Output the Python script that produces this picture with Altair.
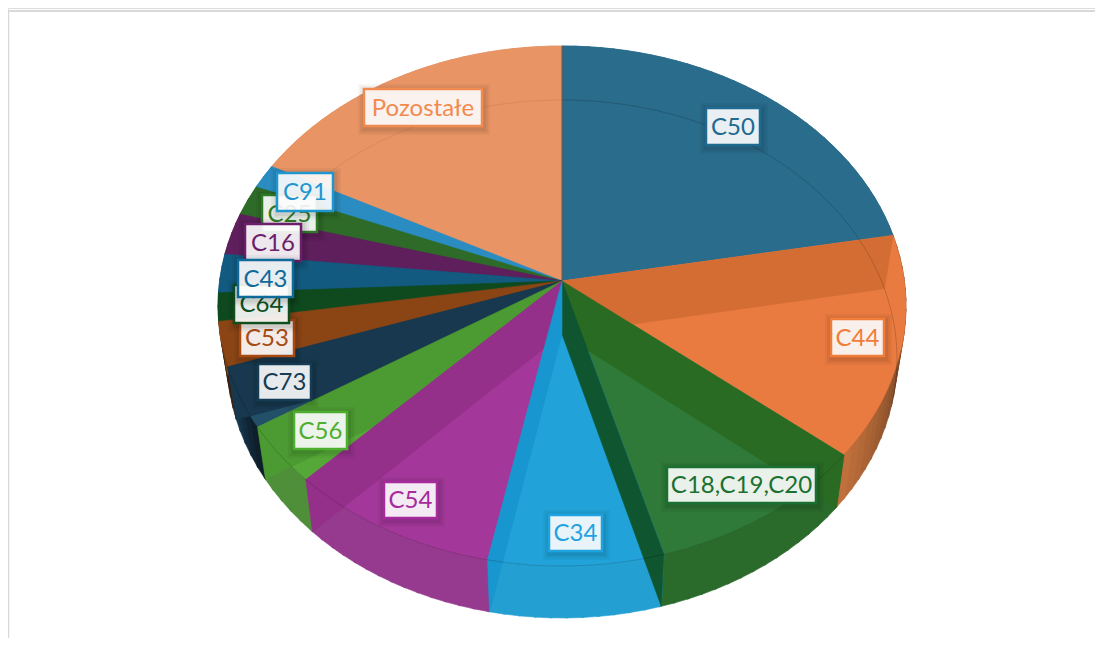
import math
import altair as alt

# ---- chart values ----
names = ["C50", "C44", "C18,C19,C20", "C34", "C54", "C56", "C73", "C53", "C64", "C43", "C16", "C25", "C91", "Pozostałe"]
shares = [22.1, 13.8, 9.7, 7.5, 9.1, 3.7, 3.8, 2.75, 1.75, 2.4, 2.6, 1.9, 1.5, 17.3]
top_colors = ["#2a6c8c", "#e97b40", "#2f7a38", "#21a3d9", "#a3379a", "#55a838", "#235069", "#9c5020", "#0f4a1f", "#125a80", "#5e1f5c", "#2e6b28", "#2a8cc0", "#e89465"]
far_wall_colors = ["#2a6c8c", "#d46d34", "#2a6b24", "#1896cf", "#94308a", "#4c9a32", "#17384e", "#8b4515", "#0f4a1f", "#125a80", "#5e1f5c", "#2e6b28", "#2a8cc0", "#e89465"]
rim_from = ["#2a6c8c", "#3a2010", "#2a6b2c", "#239fd2", "#953a8f", "#4f8f3a", "#0e1e2a", "#3a2010", "#0f4a1f", "#125a80", "#5e1f5c", "#2e6b28", "#2a8cc0", "#e89465"]
rim_to = ["#2a6c8c", "#c0703c", "#2a6b2c", "#239fd2", "#953a8f", "#4f8f3a", "#173a50", "#3a2010", "#0f4a1f", "#125a80", "#5e1f5c", "#2e6b28", "#2a8cc0", "#e89465"]
label_colors = ["#1f6a90", "#f07d3a", "#1a7030", "#1fa3e0", "#a62b9c", "#4eae30", "#153c55", "#a84a12", "#0f4f1f", "#0f6a9a", "#6c1f6a", "#2f7a26", "#1e96cf", "#f28a50"]
near_wall_c18 = "#0f5530"

# ---- layout (page pixels) ----
W, H = 1087, 630
OFF = 8
TOP = dict(cx=562, cy=306, rx=344, ry=260)
BOT = dict(cx=562, cy=359, rx=335, ry=259)
E = 25 / 260
label_boxes = {
    "C50": (705, 761, 107, 146), "C44": (830, 885, 318, 357), "C18,C19,C20": (666, 817, 466, 504),
    "C34": (548, 603, 514, 552), "C54": (383, 438, 481, 519), "C56": (293, 348, 411, 450),
    "C73": (257, 312, 363, 401), "C53": (239, 295, 319, 357), "C64": (233, 290, 284, 324),
    "C43": (237, 294, 259, 298), "C16": (244, 302, 223, 262), "C25": (261, 318, 194, 233),
    "C91": (276, 334, 172, 212), "Pozostałe": (363, 483, 88, 127),
}
label_order = ["Pozostałe", "C50", "C44", "C18,C19,C20", "C34", "C54", "C56", "C73", "C25", "C91", "C53", "C64", "C16", "C43"]


def unit(a):
    d = 1 + E * math.cos(a)
    return math.sin(a) * math.sqrt(1 - E * E) / d, (math.cos(a) + E) / d


def pt(a, e):
    X, Y = unit(a)
    return [e["cx"] + e["rx"] * X - OFF, e["cy"] - e["ry"] * Y - OFF]


def apex(e):
    return [e["cx"] - OFF, e["cy"] - e["ry"] * E - OFF]


def mix(c1, c2, f):
    a = [int(c1[i:i + 2], 16) for i in (1, 3, 5)]
    b = [int(c2[i:i + 2], 16) for i in (1, 3, 5)]
    return "#%02x%02x%02x" % tuple(round(p + (q - p) * f) for p, q in zip(a, b))


def poly(points, color):
    return {"type": "Feature", "properties": {"c": color},
            "geometry": {"type": "Polygon", "coordinates": [points + [points[0]]]}}


edges = [0.0]
for s in shares:
    edges.append(edges[-1] + s / sum(shares) * 2 * math.pi)

fills = []
# outer side walls
for i in range(len(names)):
    n = max(2, int((edges[i + 1] - edges[i]) / 0.04))
    for k in range(n):
        a0 = edges[i] + (edges[i + 1] - edges[i]) * k / n
        a1 = edges[i] + (edges[i + 1] - edges[i]) * (k + 1.15) / n
        fills.append(poly([pt(a0, TOP), pt(a1, TOP), pt(a1, BOT), pt(a0, BOT)],
                          mix(rim_from[i], rim_to[i], k / (n - 1))))
# top faces
for i in range(len(names)):
    n = max(3, int((edges[i + 1] - edges[i]) / 0.02))
    arc = [pt(edges[i] + (edges[i + 1] - edges[i]) * k / n, TOP) for k in range(n + 1)]
    fills.append(poly([apex(TOP)] + arc, top_colors[i]))


def wall(a, color):
    return poly([apex(TOP), pt(a, TOP), pt(a, BOT), apex(BOT)], color)


# cut faces seen through the glass, back to front
fills.append(wall(edges[1], far_wall_colors[1]))
fills.append(wall(edges[2], far_wall_colors[2]))
for i in range(12, 3, -1):
    fills.append(wall(edges[i + 1], far_wall_colors[i]))
fills.append(wall(edges[3], near_wall_c18))
fills.append(wall(edges[4], far_wall_colors[3]))


def arc_line(t0, t1, e):
    steps = 120
    return {"type": "Feature", "properties": {},
            "geometry": {"type": "LineString", "coordinates": [
                [e["cx"] + e["rx"] * math.sin(math.radians(t0 + (t1 - t0) * k / steps)) - OFF,
                 e["cy"] - e["ry"] * math.cos(math.radians(t0 + (t1 - t0) * k / steps)) - OFF]
                for k in range(steps + 1)]}}


lines_faint = [arc_line(-46, 0, BOT)]
lines_soft = [arc_line(0, 100, BOT), arc_line(100, 262, TOP)]
line_axis = [{"type": "Feature", "properties": {},
              "geometry": {"type": "LineString", "coordinates": [[562 - OFF, 46 - OFF], apex(TOP)]}}]

proj = alt.Projection(type="identity", scale=1, translate=[0, 0]).to_dict()


def geo(features):
    return alt.InlineData(values={"type": "FeatureCollection", "features": features},
                          format=alt.DataFormat(property="features", type="json"))


base_fill = alt.Chart(geo(fills)).mark_geoshape(strokeWidth=0.6).encode(
    fill=alt.Fill("properties.c:N", scale=None, legend=None),
    stroke=alt.Stroke("properties.c:N", scale=None, legend=None),
).project(**proj)
faint = alt.Chart(geo(lines_faint)).mark_geoshape(filled=False, stroke="#000000", strokeOpacity=0.07, strokeWidth=1).project(**proj)
soft = alt.Chart(geo(lines_soft)).mark_geoshape(filled=False, stroke="#000000", strokeOpacity=0.17, strokeWidth=1).project(**proj)
edge = alt.Chart(geo(line_axis)).mark_geoshape(filled=False, stroke="#1a2a30", strokeOpacity=0.55, strokeWidth=1).project(**proj)

xs = alt.Scale(domain=[0, W], range=[0, W], nice=False, zero=False)
ys = alt.Scale(domain=[0, H], range=[0, H], nice=False, zero=False)


def rect_layer(x0, x1, y0, y1, **kw):
    d = alt.Data(values=[{"a": x0 - OFF, "b": x1 - OFF, "c": y0 - OFF, "d": y1 - OFF}])
    return alt.Chart(d).mark_rect(**kw).encode(
        x=alt.X("a:Q", scale=xs, axis=None), x2="b:Q",
        y=alt.Y("c:Q", scale=ys, axis=None), y2="d:Q")


layers = [base_fill, faint, soft, edge]
layers.append(alt.Chart(alt.Data(values=[{"a": 0, "b": W, "c": 3}])).mark_rule(color="#d9d9d9", strokeWidth=2).encode(
    x=alt.X("a:Q", scale=xs, axis=None), x2="b:Q", y=alt.Y("c:Q", scale=ys, axis=None)))
layers.append(alt.Chart(alt.Data(values=[{"a": 0.5, "c": 3, "d": H}])).mark_rule(color="#d9d9d9", strokeWidth=1.5).encode(
    x=alt.X("a:Q", scale=xs, axis=None), y=alt.Y("c:Q", scale=ys, axis=None), y2="d:Q"))

for nm in label_order:
    col = label_colors[names.index(nm)]
    x0, x1, y0, y1 = label_boxes[nm]
    for grow, op in ((6, 0.035), (4, 0.045), (2, 0.055)):
        layers.append(rect_layer(x0 + 1 - grow, x1 + 1 + grow, y0 + 2 - grow, y1 + 2 + grow, color="#000000", opacity=op))
    layers.append(rect_layer(x0 + 1, x1 - 1, y0 + 1, y1 - 1, fill="#ffffff", fillOpacity=0.9, stroke=col, strokeWidth=2.5))
    d = alt.Data(values=[{"a": (x0 + x1) / 2 - OFF, "c": (y0 + y1) / 2 - OFF + 1, "t": nm}])
    layers.append(alt.Chart(d).mark_text(font="Lato", fontSize=24, color=col, align="center", baseline="middle").encode(
        x=alt.X("a:Q", scale=xs, axis=None), y=alt.Y("c:Q", scale=ys, axis=None), text="t:N"))

chart = alt.layer(*layers).properties(width=W, height=H, padding=0, background="#ffffff").configure_view(stroke=None)
chart = chart.configure(autosize=alt.AutoSizeParams(type="none"))
chart.save("out.html", embed_options={"renderer": "svg", "actions": False})
